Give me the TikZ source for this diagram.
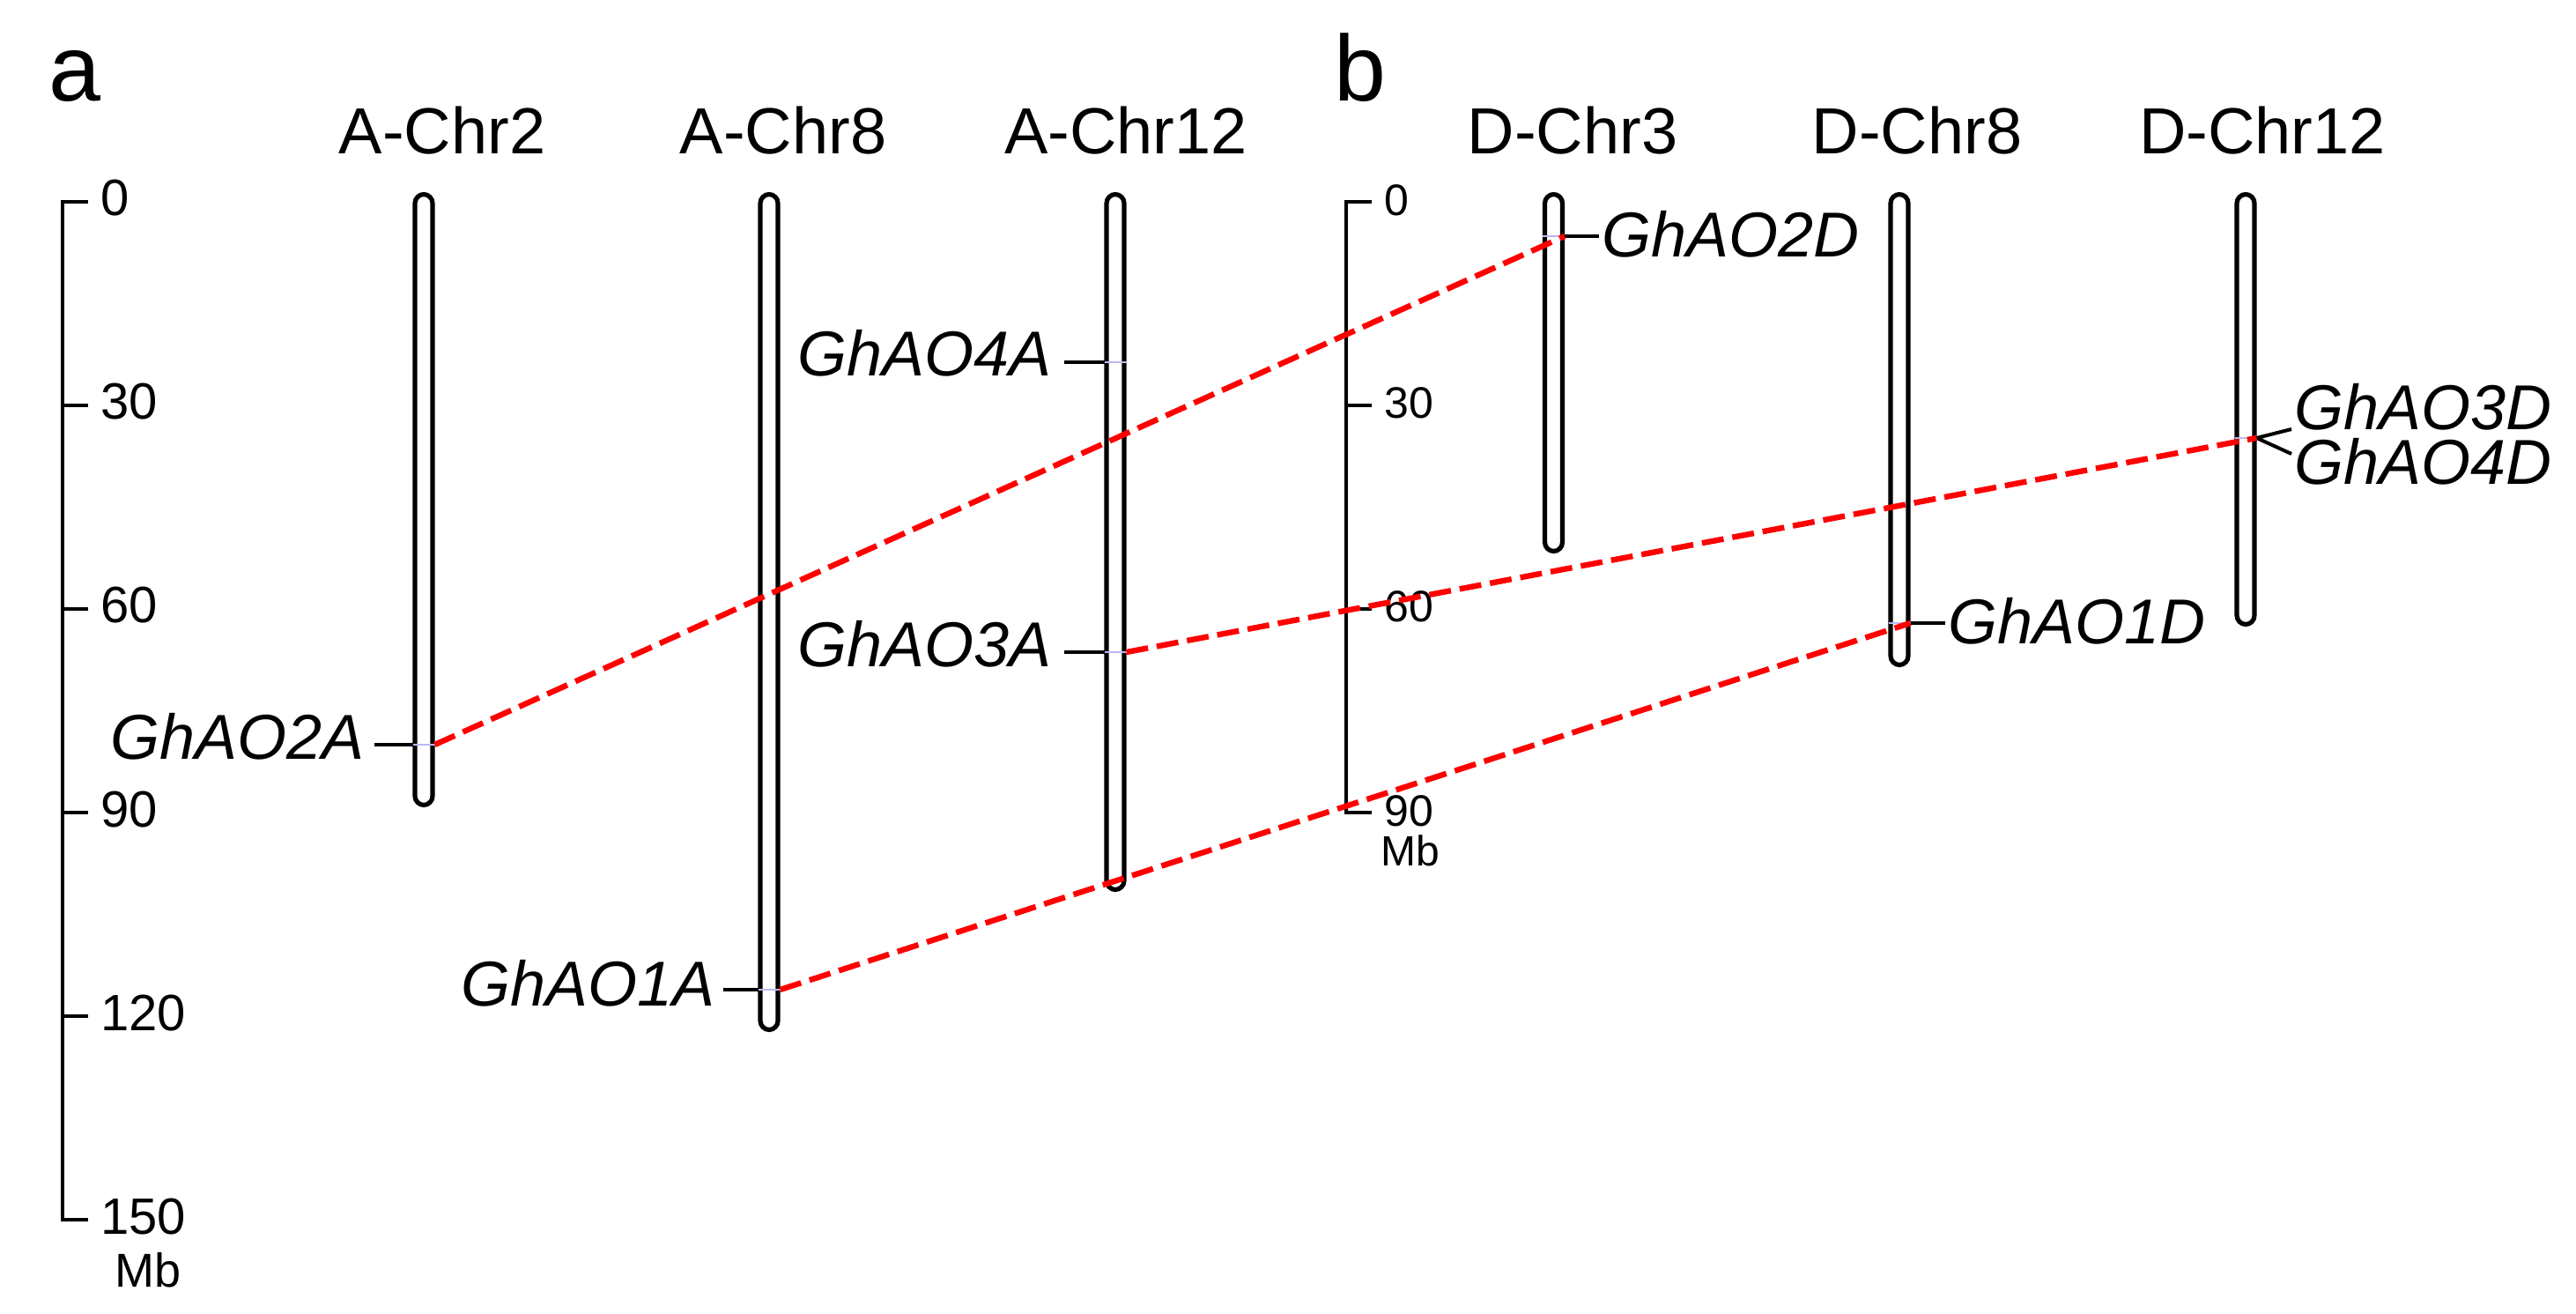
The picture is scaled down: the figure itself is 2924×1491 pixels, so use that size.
\documentclass[tikz,border=0pt]{standalone}
\usepackage{fontspec}
\setmainfont{Liberation Sans}
\definecolor{synred}{RGB}{255,0,0}
\definecolor{markblue}{RGB}{185,185,240}
\begin{document}
\begin{tikzpicture}[x=0.5pt,y=-0.5pt,
  chrom/.style={draw=black,line width=2.6pt,fill=white,rounded corners=5.1pt},
  axisline/.style={draw=black,line width=2.4pt},
  genetick/.style={draw=black,line width=2pt},
  synline/.style={draw=synred,line width=3.2pt,dash pattern=on 12.5pt off 5pt},
  innermark/.style={draw=markblue,line width=0.7pt},
  panel/.style={font=\fontsize{53}{60}\selectfont,inner sep=0pt,anchor=base west},
  chrlabel/.style={font=\fontsize{37}{44}\selectfont,inner sep=0pt,anchor=base},
  gene/.style={font=\fontsize{36}{42}\selectfont\itshape,inner sep=0pt},
  scaleA/.style={font=\fontsize{29}{34}\selectfont,inner sep=0pt,anchor=base west},
  scaleB/.style={font=\fontsize{25}{30}\selectfont,inner sep=0pt,anchor=base west},
]
\useasboundingbox (0,0) rectangle (2924,1491);

% panel labels
\node[panel] (pa) at (55,115) {a};
\node[panel] (pb) at (1514,115) {b};

% chromosome labels
\node[chrlabel] (lA2)  at (502,175)  {A-Chr2};
\node[chrlabel] (lA8)  at (889,175)  {A-Chr8};
\node[chrlabel] (lA12) at (1278,175) {A-Chr12};
\node[chrlabel] (lD3)  at (1785,175) {D-Chr3};
\node[chrlabel] (lD8)  at (2176,175) {D-Chr8};
\node[chrlabel] (lD12) at (2568,175) {D-Chr12};

% scale bar a
\draw[axisline] (100,229) -- (71,229) -- (71,1384) -- (100,1384);
\foreach \yy in {460,691,922,1153} \draw[axisline] (71,\yy) -- (100,\yy);
\node[scaleA] (sA0)   at (114,245)  {0};
\node[scaleA] (sA30)  at (114,476)  {30};
\node[scaleA] (sA60)  at (114,707)  {60};
\node[scaleA] (sA90)  at (114,938)  {90};
\node[scaleA] (sA120) at (114,1169) {120};
\node[scaleA] (sA150) at (114,1400) {150};
\node[font=\fontsize{27}{32}\selectfont,inner sep=0pt,anchor=base west] (mbA) at (130,1460) {Mb};

% scale bar b
\draw[axisline] (1557,229) -- (1528,229) -- (1528,922) -- (1557,922);
\foreach \yy in {460,691} \draw[axisline] (1528,\yy) -- (1557,\yy);
\node[scaleB] (sB0)  at (1571,245) {0};
\node[scaleB] (sB30) at (1571,475) {30};
\node[scaleB] (sB60) at (1571,706) {60};
\node[scaleB] (sB90) at (1571,937) {90};
\node[font=\fontsize{24}{29}\selectfont,inner sep=0pt,anchor=base west] (mbB) at (1567,982) {Mb};

% chromosomes
\draw[chrom] (481-10,220.5) rectangle (481+10,913.5);
\draw[chrom] (873-10,220.5) rectangle (873+10,1168.5);
\draw[chrom] (1266-10,220.5) rectangle (1266+10,1009.5);
\draw[chrom] (1763.5-10,220.5) rectangle (1763.5+10,625.5);
\draw[chrom] (2156-10,220.5) rectangle (2156+10,754.5);
\draw[chrom] (2549-10,220.5) rectangle (2549+10,708.5);

% marker coordinates
\coordinate (m2AL) at (468.5,845);   \coordinate (m2AR) at (493.5,845);
\coordinate (m1AL) at (860.5,1123);  \coordinate (m1AR) at (885.5,1123);
\coordinate (m4AL) at (1253.5,411);  \coordinate (m4AR) at (1278.5,411);
\coordinate (m3AL) at (1253.5,740);  \coordinate (m3AR) at (1278.5,740);
\coordinate (m2DL) at (1751,268);    \coordinate (m2DR) at (1776,268);
\coordinate (m1DL) at (2143.5,707);  \coordinate (m1DR) at (2168.5,707);
\coordinate (m34DL) at (2536.5,497); \coordinate (m34DR) at (2561.5,497);

% faint marks inside chromosomes
\foreach \k in {2A,1A,4A,3A,2D,1D,34D} \draw[innermark] (m\k L) -- (m\k R);

% gene labels and ticks
\node[gene,anchor=base east] (g2A) at (414,862)  {GhAO2A};
\node[gene,anchor=base east] (g1A) at (812,1141) {GhAO1A};
\node[gene,anchor=base east] (g4A) at (1194,427) {GhAO4A};
\node[gene,anchor=base east] (g3A) at (1194,757) {GhAO3A};
\node[gene,anchor=base west] (g2D) at (1818,292) {GhAO2D};
\node[gene,anchor=base west] (g1D) at (2211,731) {GhAO1D};
\node[gene,anchor=base west] (g3D) at (2604,488) {GhAO3D};
\node[gene,anchor=base west] (g4D) at (2604,550) {GhAO4D};

\coordinate (t2A) at (425,845);
\coordinate (t1A) at (821,1123);
\coordinate (t4A) at (1208,411);
\coordinate (t3A) at (1208,740);
\coordinate (t2D) at (1815,268);
\coordinate (t1D) at (2208,707);
\coordinate (t3D) at (2601,487);
\coordinate (t4D) at (2601,515);

\draw[genetick] (t2A) -- (m2AL);
\draw[genetick] (t1A) -- (m1AL);
\draw[genetick] (t4A) -- (m4AL);
\draw[genetick] (t3A) -- (m3AL);
\draw[genetick] (m2DR) -- (t2D);
\draw[genetick] (m1DR) -- (t1D);
\draw[genetick] (t3D) -- (m34DR) -- (t4D);

% syntenic links
\draw[synline] (m2AR) -- (m2DR);
\draw[synline] (m3AR) -- (m34DR);
\draw[synline] (m1AR) -- (m1DR);
\end{tikzpicture}
\end{document}
